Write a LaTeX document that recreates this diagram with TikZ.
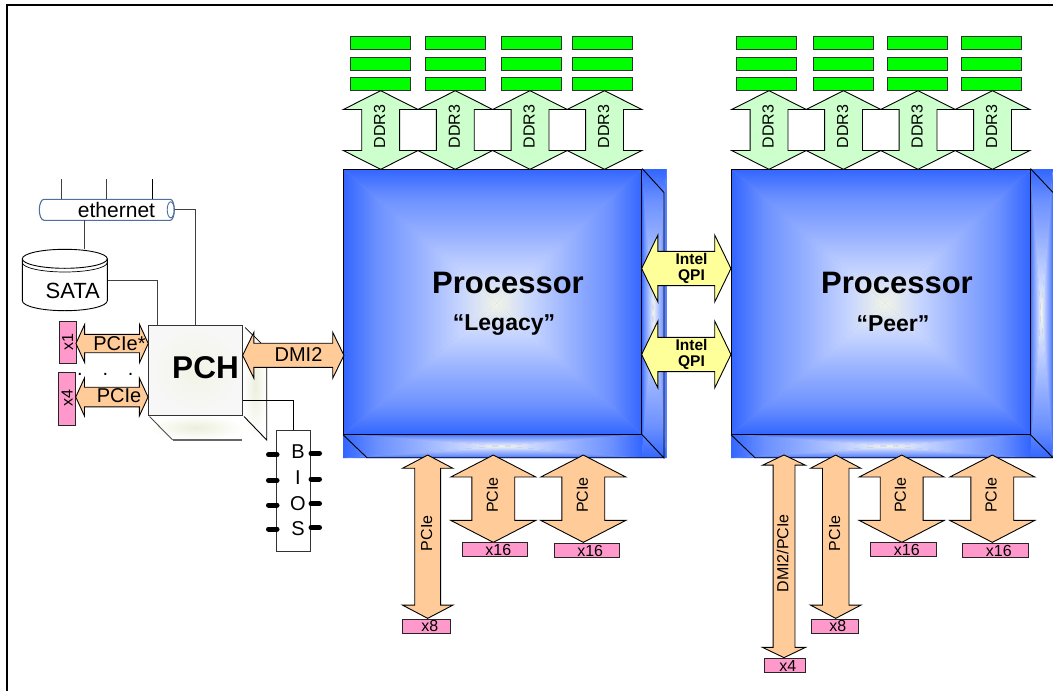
\documentclass[tikz,border=0pt]{standalone}
\usepackage{fontspec}
\setmainfont{Liberation Sans}
\usetikzlibrary{shapes.arrows}

\definecolor{cpublue}{HTML}{3366FF}
\definecolor{ddrgreen}{HTML}{CCFFCC}
\definecolor{dimmgreen}{HTML}{00FF00}
\definecolor{pcieorange}{HTML}{FFCC99}
\definecolor{qpiyellow}{HTML}{FFFF99}
\definecolor{lanepink}{HTML}{FF99CC}
\definecolor{netblue}{HTML}{4F6F9F}
\definecolor{pchpale}{HTML}{ECEFDC}

\pgfdeclareverticalshading{cpugrad}{100bp}{color(0bp)=(cpublue); color(25bp)=(cpublue); color(36bp)=(cpublue!72!white); color(50bp)=(cpublue!50!white); color(63bp)=(cpublue!28!white); color(75bp)=(pchpale!70!white); color(100bp)=(pchpale!70!white)}

\newcommand{\cpuface}[6]{
	\fill[cpublue!60!white] (#1,#2) rectangle (#3,#4);
	\shade[shading=cpugrad,shading angle=180] (#1,#2) -- (#3,#2) -- (#5,#6) -- cycle;
	\shade[shading=cpugrad,shading angle=0] (#1,#4) -- (#3,#4) -- (#5,#6) -- cycle;
	\shade[shading=cpugrad,shading angle=270] (#1,#2) -- (#1,#4) -- (#5,#6) -- cycle;
	\shade[shading=cpugrad,shading angle=90] (#3,#2) -- (#3,#4) -- (#5,#6) -- cycle;
}
\newcommand{\fs}[1]{\fontsize{#1}{#1}\selectfont}

\tikzset{
	twoway/.style n args={4}{double arrow,draw=black,line width=0.9pt,inner sep=0pt,outer sep=0pt,
		text height=#3pt,text depth=0pt,minimum height=#1pt,minimum width=#2pt,
		double arrow head extend={(#2-#3)/2*1pt},double arrow tip angle={2*atan(#2/2/#4)}},
	dimmbox/.style={draw=black!80,line width=0.9pt,fill=dimmgreen,minimum width=60pt,minimum height=13.5pt,inner sep=0pt},
	lanebox/.style={draw=black!85,line width=0.9pt,fill=lanepink,inner sep=0pt,font=\fs{16}},
	wire/.style={draw=black!75,line width=0.9pt},
	bluewire/.style={draw=black,line width=0.9pt},
	biospin/.style={line width=5pt,line cap=round},
	tag/.style={inner sep=0pt},
}

\begin{document}
\begin{tikzpicture}[x=1pt,y=-1pt]
	\useasboundingbox (0,0) rectangle (1053,691);
	\coordinate (frameR) at (1053,5);
	\coordinate (frameC) at (7,5);
	\coordinate (frameB) at (7,691);
	\draw[line width=2pt] (frameR) -- (frameC) -- (frameB);

	\foreach \dimmx in {380.5,455,531.7,602.7,766,843,917,991}
		\foreach \dimmy in {42.7,63.8,83.8}
			\node[dimmbox] (dimm-\dimmx-\dimmy) at (\dimmx,\dimmy) {};

	\cpuface{641.7}{169}{666.7}{458}{653}{313}
	\cpuface{343.2}{434}{641.7}{458}{502}{446}
	\cpuface{343.5}{169}{641.7}{434.3}{497}{303}
	\node[draw=black,line width=0.9pt,minimum width=298.2pt,minimum height=265.3pt,inner sep=0pt] (legacy) at (492.6,301.65) {};
	\draw[bluewire] (legacy.north east) -- (664,192.5) -- (664,458) -- (legacy.south east);
	\draw[bluewire] (legacy.south west) -- (367,457.7) -- (664,457.7);

	\cpuface{1030}{169}{1053}{458}{1041}{313}
	\cpuface{731}{434}{1030}{458}{890}{446}
	\cpuface{731.5}{169}{1030}{434.3}{885}{303}
	\node[draw=black,line width=0.9pt,minimum width=298.5pt,minimum height=265.3pt,inner sep=0pt] (peer) at (880.75,301.65) {};
	\draw[bluewire] (peer.north east) -- (1053,192.5);
	\draw[bluewire] (peer.south east) -- (1053,457.7) -- (755,457.7) -- (peer.south west);

	\node[tag,font=\fs{31}\bfseries] (legacytitle) at (508,283) {Processor};
	\node[tag,font=\fs{23}\bfseries] (legacyname) at (504,325) {“Legacy”};
	\node[tag,font=\fs{31}\bfseries] (peertitle) at (897,283) {Processor};
	\node[tag,font=\fs{23}\bfseries] (peername) at (893,324) {“Peer”};

	\foreach \ddrx [count=\i] in {380.7,455.3,530,604.5,769,843.5,918,992.5} {
		\node[twoway={78.6}{74}{37}{18.6},fill=ddrgreen,rotate=90] (ddr\i) at (\ddrx,130) {};
		\node[tag,font=\fs{16},rotate=90] (ddrtag\i) at (\ddrx-1,126.7) {DDR3};
	}

	\node[twoway={89.3}{66}{33.3}{16},fill=qpiyellow] (qpiA) at (686.3,268.5) {};
	\node[tag,font=\fs{15.5}\bfseries,align=center] (qpiAtag) at (691.5,268.5) {Intel\\[1pt]QPI};
	\node[twoway={89.3}{66}{33.3}{16},fill=qpiyellow] (qpiB) at (686.3,354.5) {};
	\node[tag,font=\fs{15.5}\bfseries,align=center] (qpiBtag) at (691.5,354.5) {Intel\\[1pt]QPI};

	\shade[inner color=pchpale,outer color=white] (148.5,415) rectangle (243,440);
	\shade[inner color=pchpale,outer color=white] (243,330) rectangle (267,440);
	\node[draw=black!80,line width=0.9pt,shade,inner color=pchpale!70!white,outer color=black!3,minimum width=94.4pt,minimum height=90pt,inner sep=0pt] (pch) at (195.5,370) {};
	\node[tag,font=\fs{31.5}\bfseries] (pchtag) at (205.5,368) {PCH};
	\coordinate (pchdiagA) at (245,327.5);
	\coordinate (pchdiagB) at (261,343);
	\coordinate (pchdiagC) at (244,416.5);
	\coordinate (pchdiagD) at (266.7,440);
	\coordinate (pchdiagE) at (266.7,367);
	\coordinate (pchdiagF) at (149.5,416.5);
	\coordinate (pchdiagG) at (172.5,439.8);
	\coordinate (pchdiagH) at (242,439.8);
	\draw[line width=0.7pt] (pchdiagA) -- (pchdiagB);
	\draw[line width=0.9pt] (pchdiagC) -- (pchdiagD) -- (pchdiagE);
	\draw[line width=0.9pt,draw=black!70] (pchdiagF) -- (pchdiagG);
	\draw[line width=1.5pt,draw=black!60] (pchdiagG) -- (pchdiagH);

	\node[twoway={101.3}{45}{23.3}{11},fill=pcieorange] (dmi) at (293.3,355.3) {};
	\node[tag,font=\fs{20}] (dmitag) at (298.5,355) {DMI2};

	\node[draw=black!80,line width=0.9pt,fill=white,minimum width=33.6pt,minimum height=121pt,inner sep=0pt] (bios) at (293.5,491.2) {};
	\node[tag,align=center,font=\fontsize{20}{25.7}\selectfont] (biostag) at (298,490.5) {B\\I\\O\\S};
	\coordinate (pchbios) at (pch.east |- 0,400.3);
	\draw[bluewire] (pchbios) -| (bios.north);
	\foreach \piny in {454.7,480.3,505,529}
		\draw[biospin] (268.5,\piny) -- (277,\piny);
	\foreach \piny in {453.3,479,503.7,527.7}
		\draw[biospin] (311,\piny) -- (319.5,\piny);

	\node[lanebox,minimum width=41.6pt,minimum height=16.7pt,rotate=90] (laneA) at (67.7,342.5) {x1};
	\node[twoway={72.3}{37.2}{17.5}{8.5},fill=pcieorange] (pcieA) at (112.1,343.5) {};
	\node[tag,font=\fs{20}] (pcieAtag) at (119.5,344) {PCIe*};
	\node[lanebox,minimum width=53pt,minimum height=17.4pt,rotate=90] (laneB) at (67,398.5) {x4};
	\node[twoway={72.3}{37}{18.7}{8.5},fill=pcieorange] (pcieB) at (111.9,397) {};
	\node[tag,font=\fs{20}] (pcieBtag) at (119,396) {PCIe};
	\foreach \dotx in {80,105.3,130.7}
		\node[tag,anchor=base,font=\fs{20}] (dot\dotx) at (\dotx,375.5) {.};

	\draw[draw=netblue,line width=1.1pt,fill=white] (44,199.3) arc[start angle=90,end angle=270,x radius=4.7,y radius=-10.5] -- (170.3,220.3) arc[start angle=270,end angle=450,x radius=4,y radius=-10.5] -- cycle;
	\draw[draw=netblue,line width=0.9pt] (170.7,209.8) ellipse[x radius=3.5,y radius=-8];
	\node[minimum width=135pt,minimum height=21pt,inner sep=0pt] (ethernet) at (106.8,209.8) {};
	\node[tag,font=\fs{21}] (ethernettag) at (116.5,210) {ethernet};

	\draw[line width=0.9pt,fill=white] (22.3,258.8) -- (22.3,300.7) arc[start angle=180,end angle=360,x radius=42.5,y radius=-10] -- (107.3,258.8) arc[start angle=0,end angle=180,x radius=42.5,y radius=-9.5] -- cycle;
	\draw[line width=0.9pt] (22.3,258.8) arc[start angle=180,end angle=360,x radius=42.5,y radius=-9.5];
	\draw[line width=0.7pt] (22.3,262.5) arc[start angle=180,end angle=360,x radius=42.5,y radius=-9.5];
	\node[minimum width=85pt,minimum height=61.4pt,inner sep=0pt] (sata) at (64.8,280) {};
	\node[tag,font=\fs{22}] (satatag) at (72.7,291) {SATA};

	\coordinate (stubA) at (61.7,179.3);
	\coordinate (stubB) at (106.7,179.3);
	\coordinate (stubC) at (152.3,179.3);
	\draw[wire] (stubA) -- (stubA |- ethernet.north);
	\draw[wire] (stubB) -- (stubB |- ethernet.north);
	\draw[bluewire] (stubC) -- (stubC |- ethernet.north);
	\coordinate (netsata) at (84.7,220.3);
	\draw[wire] (netsata) -- (netsata |- sata.north);
	\coordinate (netpch) at (195.7,325);
	\draw[wire] (ethernet.east) -| (netpch);
	\coordinate (satapch) at (157.7,325);
	\draw[wire] (sata.east) -| (satapch);

	\node[twoway={163.3}{49.5}{25}{13},fill=pcieorange,rotate=90] (pcieC) at (427.7,536.7) {};
	\node[tag,font=\fs{16},rotate=90] (pcieCtag) at (426.7,533.3) {PCIe};
	\node[lanebox,minimum width=48pt,minimum height=14pt] (laneC) at (426.7,626.3) {\hspace{6pt}x8};
	\node[twoway={87.3}{84}{42}{21.7},fill=pcieorange,rotate=90] (pcieD) at (493.3,498.7) {};
	\node[tag,font=\fs{16},rotate=90] (pcieDtag) at (492.3,495) {PCIe};
	\node[lanebox,minimum width=65pt,minimum height=14.4pt] (laneD) at (494.8,549.5) {\hspace{7pt}x16};
	\node[twoway={87.3}{84}{42}{21.7},fill=pcieorange,rotate=90] (pcieE) at (583.3,498.7) {};
	\node[tag,font=\fs{16},rotate=90] (pcieEtag) at (582.3,495) {PCIe};
	\node[lanebox,minimum width=65.3pt,minimum height=14pt] (laneE) at (586.7,550.7) {\hspace{7pt}x16};

	\node[twoway={202.7}{41.8}{21}{10},fill=pcieorange,rotate=90] (dmiB) at (784,556.3) {};
	\node[tag,font=\fs{16},rotate=90] (dmiBtag) at (782.7,553.3) {DMI2/PCIe};
	\node[lanebox,minimum width=41.7pt,minimum height=14.4pt] (laneF) at (784.8,665.5) {\hspace{6pt}x4};
	\node[twoway={163.3}{49.5}{25.6}{13},fill=pcieorange,rotate=90] (pcieF) at (835.7,536.7) {};
	\node[tag,font=\fs{16},rotate=90] (pcieFtag) at (834.7,533.3) {PCIe};
	\node[lanebox,minimum width=47.7pt,minimum height=14pt] (laneG) at (834.8,626.3) {\hspace{6pt}x8};
	\node[twoway={87.3}{84}{42}{21.7},fill=pcieorange,rotate=90] (pcieG) at (901.7,498.7) {};
	\node[tag,font=\fs{16},rotate=90] (pcieGtag) at (900.3,495) {PCIe};
	\node[lanebox,minimum width=65.3pt,minimum height=14.4pt] (laneH) at (903.3,549.5) {\hspace{7pt}x16};
	\node[twoway={87.3}{84}{42}{21.7},fill=pcieorange,rotate=90] (pcieH) at (992.3,498.7) {};
	\node[tag,font=\fs{16},rotate=90] (pcieHtag) at (991,495) {PCIe};
	\node[lanebox,minimum width=65.3pt,minimum height=14pt] (laneI) at (995.3,550.7) {\hspace{7pt}x16};
\end{tikzpicture}
\end{document}
